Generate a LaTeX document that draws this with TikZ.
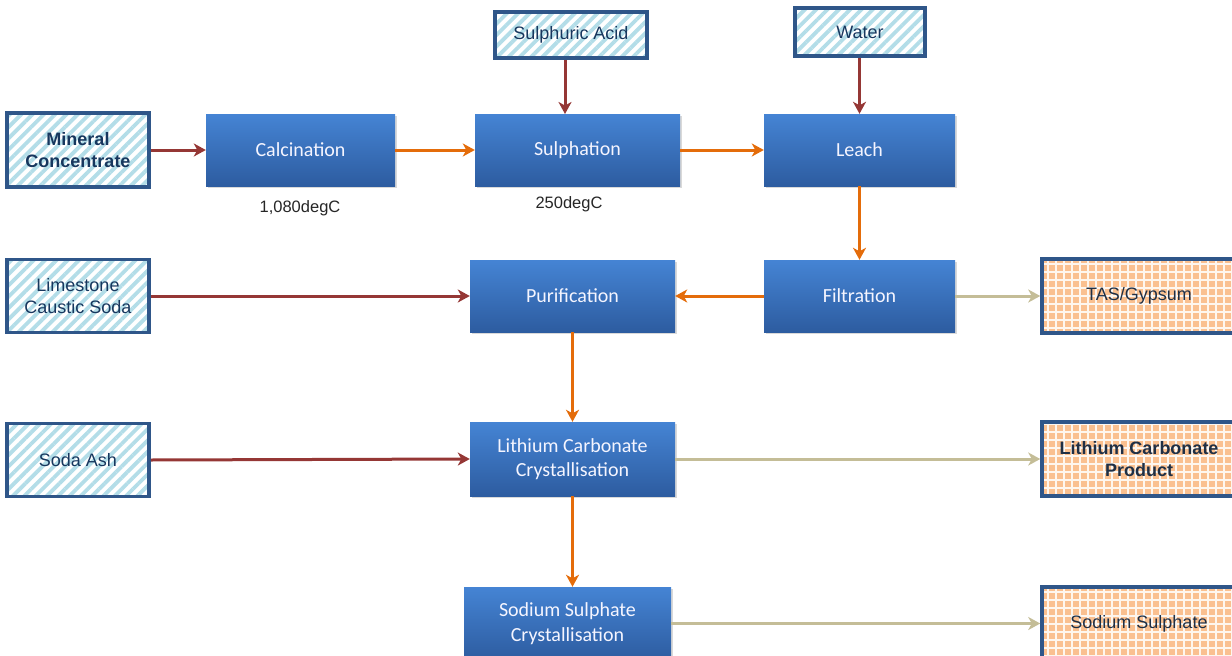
\documentclass[tikz,border=0pt]{standalone}
\usepackage{fontspec}
\setmainfont{Liberation Sans}
\newfontfamily\calib{Carlito}
\usetikzlibrary{arrows.meta,patterns.meta,shadows}
\definecolor{inborder}{HTML}{2F5689}
\definecolor{stripe}{HTML}{B3DDE8}
\definecolor{peach}{HTML}{FAC090}
\definecolor{intext}{HTML}{17375E}
\definecolor{outtext}{HTML}{1F2F45}
\definecolor{btop}{HTML}{4584D4}
\definecolor{bbot}{HTML}{2D5CA0}
\definecolor{dred}{HTML}{953735}
\definecolor{orng}{HTML}{E46C0A}
\definecolor{beige}{HTML}{C4BD97}
\tikzset{
  inbox/.style={draw=inborder, line width=3.5pt,
    preaction={fill=white},
    preaction={pattern={Lines[angle=45,distance=8pt,line width=3.8pt]}, pattern color=stripe},
    text=intext, align=center, inner sep=0pt, font=\fontsize{18}{22}\selectfont},
  outbox/.style={draw=inborder, line width=3.5pt,
    preaction={fill=peach},
    preaction={pattern={Hatch[angle=0,distance=8pt,line width=1.8pt]}, pattern color=white!85!peach},
    text=outtext, align=center, inner sep=0pt, font=\fontsize{18}{22}\selectfont},
  procbox/.style={top color=btop, bottom color=bbot, draw=none,
    drop shadow={opacity=0.3, shadow xshift=1.5pt, shadow yshift=-2pt},
    text=white!96!blue, align=center, inner sep=0pt, font=\calib\fontsize{20}{24.5}\selectfont},
  templbl/.style={font=\fontsize{16.5}{20}\selectfont, text=black!85},
  flow/.style={line width=3pt, -{Stealth[length=12pt,width=13pt,inset=3.5pt]}},
  redf/.style={flow, draw=dred},
  orf/.style={flow, draw=orng},
  bgf/.style={flow, draw=beige},
}
\begin{document}
\begin{tikzpicture}[x=1pt,y=-1pt]
\useasboundingbox (0,0) rectangle (1232,656);
\clip (0,0) rectangle (1232,656);
% inputs
\node[inbox, minimum width=152pt, minimum height=46pt] (acid) at (571,35) {Sulphuric Acid};
\node[inbox, minimum width=130pt, minimum height=48pt] (water) at (860,32) {Water};
\node[inbox, minimum width=142pt, minimum height=74pt, font=\bfseries\fontsize{18}{22}\selectfont] (mineral) at (78,150) {Mineral\\Concentrate};
\node[inbox, minimum width=142pt, minimum height=73pt] (lime) at (78,296) {Limestone\\Caustic Soda};
\node[inbox, minimum width=142pt, minimum height=73pt] (soda) at (78,460) {Soda Ash};
% process
\node[procbox, minimum width=189pt, minimum height=72pt] (calc) at (300.5,150) {Calcination};
\node[procbox, minimum width=205pt, minimum height=72pt] (sulph) at (577.5,150) {Sulphation};
\node[procbox, minimum width=191pt, minimum height=72pt] (leach) at (859.5,150) {Leach};
\node[procbox, minimum width=205pt, minimum height=72pt] (purif) at (572.5,296) {Purification};
\node[procbox, minimum width=191pt, minimum height=72pt] (filt) at (859.5,296) {Filtration};
\node[procbox, minimum width=205pt, minimum height=74pt] (lico) at (572.5,459) {Lithium Carbonate\\Crystallisation};
\node[procbox, minimum width=207pt, minimum height=73pt] (naso) at (567.5,623.5) {Sodium Sulphate\\Crystallisation};
% outputs
\node[outbox, minimum width=194pt, minimum height=74pt] (tas) at (1139,296) {TAS/Gypsum};
\node[outbox, minimum width=194pt, minimum height=74pt, font=\bfseries\fontsize{18}{22}\selectfont] (prod) at (1139,459) {Lithium Carbonate\\Product};
\node[outbox, minimum width=194pt, minimum height=73pt] (nas) at (1139,623.5) {Sodium Sulphate};
% temperature labels
\node[templbl] (t1) at (300,208) {1,080degC};
\node[templbl] (t2) at (569,204) {250degC};
% connectors
\draw[redf] (mineral.east) -- (calc.west);
\draw[orf] (calc.east) -- (sulph.west);
\draw[orf] (sulph.east) -- (leach.west);
\draw[redf] (acid.south -| 565,0) -- (565,114);
\draw[redf] (water.south -| leach.north) -- (leach.north);
\draw[orf] (leach.south) -- (filt.north);
\draw[orf] (filt.west) -- (purif.east);
\draw[redf] (lime.east) -- (purif.west);
\draw[bgf] (filt.east) -- (tas.west);
\draw[orf] (purif.south) -- (lico.north);
\draw[redf] (soda.east) -- (lico.west);
\draw[bgf] (lico.east) -- (prod.west);
\draw[orf] (lico.south) -- (lico.south |- naso.north);
\draw[bgf] (naso.east) -- (nas.west);
\end{tikzpicture}
\end{document}
